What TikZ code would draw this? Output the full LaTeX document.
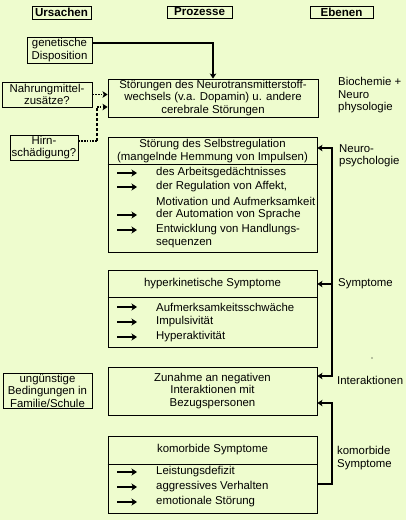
\documentclass[tikz,border=0pt]{standalone}
\usepackage{fontspec}
\setmainfont{Liberation Sans}
\usetikzlibrary{arrows.meta,calc}
\definecolor{bg}{RGB}{238,252,206}
\begin{document}
\begin{tikzpicture}[x=1pt,y=-1pt,
  every node/.style={font=\fontsize{11.4}{12.5}\selectfont, inner sep=0pt},
  head/.style={font=\fontsize{11.6}{12.5}\selectfont\bfseries},
  box/.style={draw, line width=0.9pt, inner sep=0pt},
  lbl/.style={anchor=west, align=left},
  row/.style={anchor=west},
  conn/.style={line width=1.8pt},
  tip/.style={-{Stealth[length=5pt,width=6.5pt,inset=1.2pt]}},
  dotline/.style={line width=1.6pt, dash pattern=on 1.6pt off 1.2pt},
  dashline/.style={line width=1.4pt, dash pattern=on 3pt off 2pt},
  larrow/.style={line width=1.8pt, -{Stealth[length=5.5pt,width=7pt,inset=1.5pt]}}
]
\fill[bg] (0,0) rectangle (406,520);
\useasboundingbox (0,0) rectangle (406,520);

% headers
\node[box, head, minimum width=59pt, minimum height=13pt] (urs) at (61.5,12.5) {Ursachen};
\node[box, head, minimum width=65pt, minimum height=12pt] (proz) at (199.5,12) {Prozesse};
\node[box, head, minimum width=63pt, minimum height=12pt] (eben) at (341.5,12) {Ebenen};

% causes
\node[box, minimum width=65pt, minimum height=26pt, align=center] (gen) at (59.5,50) {genetische\\Disposition};
\node[box, minimum width=90pt, minimum height=25pt, align=center] (nahr) at (47,94.5) {Nahrungmittel-\\zusätze?};
\node[box, minimum width=68pt, minimum height=25pt, align=center] (hirn) at (44,147.5) {Hirn-\\schädigung?};
\node[box, minimum width=89pt, minimum height=35pt, align=center] (ung) at (47.5,390.5) {ungünstige\\Bedingungen in\\Familie/Schule};

% processes
\node[box, minimum width=210pt, minimum height=38pt, align=center] (stoer) at (213,98) {Störungen des Neurotransmitterstoff-\\wechsels (v.a. Dopamin) u. andere\\cerebrale Störungen};

\node[box, minimum width=209pt, minimum height=115pt] (selbst) at (212.5,194.5) {};
\node[align=center] (seltitle) at (212.5,151) {Störung des Selbstregulation\\(mangelnde Hemmung von Impulsen)};
\draw[line width=0.9pt] ([yshift=-28pt]selbst.north west) -- ([yshift=-28pt]selbst.north east);
\node[row] (s1) at (156,173) {des Arbeitsgedächtnisses};
\node[row] (s2) at (156,187) {der Regulation von Affekt,};
\node[row] (s3) at (156,201) {Motivation und Aufmerksamkeit};
\node[row] (s4) at (156,215) {der Automation von Sprache};
\node[row] (s5) at (156,230) {Entwicklung von Handlungs-};
\node[row] (s6) at (156,244) {sequenzen};
\foreach \yy in {173,187,215,230} \draw[larrow] (117,\yy) -- (137,\yy);

\node[box, minimum width=209pt, minimum height=77pt] (hyper) at (212.5,308.5) {};
\node (hyptitle) at (212.5,284) {hyperkinetische Symptome};
\draw[line width=0.9pt] ([yshift=-28pt]hyper.north west) -- ([yshift=-28pt]hyper.north east);
\node[row] (h1) at (156,307) {Aufmerksamkeitsschwäche};
\node[row] (h2) at (156,322) {Impulsivität};
\node[row] (h3) at (156,337) {Hyperaktivität};
\foreach \yy in {307,322,337} \draw[larrow] (117,\yy) -- (137,\yy);

\node[box, minimum width=209pt, minimum height=48pt, align=center] (zun) at (212.5,391) {Zunahme an negativen\\Interaktionen mit\\Bezugspersonen};

\node[box, minimum width=209pt, minimum height=77pt] (komo) at (212.5,474.5) {};
\node (komtitle) at (212.5,450) {komorbide Symptome};
\draw[line width=0.9pt] ([yshift=-29pt]komo.north west) -- ([yshift=-29pt]komo.north east);
\node[row] (k1) at (156,472) {Leistungsdefizit};
\node[row] (k2) at (156,487) {aggressives Verhalten};
\node[row] (k3) at (156,502) {emotionale Störung};
\foreach \yy in {472,487,502} \draw[larrow] (117,\yy) -- (137,\yy);

% levels
\node[lbl] (bio) at (338,95.5) {Biochemie +\\Neuro\\physologie};
\node[lbl] (neuro) at (339,156) {Neuro-\\psychologie};
\node[lbl] (sym) at (338,284) {Symptome};
\node[lbl] (inter) at (337,380) {Interaktionen};
\node[lbl] (kom) at (337,458) {komorbide\\Symptome};

% connectors
\draw[conn, tip] ([yshift=7pt]gen.east) -| (stoer.north);
\draw[dotline, tip] (nahr.east) -- (nahr.east -| stoer.west);
\coordinate (hk1) at (97,141);
\coordinate (hk2) at (97,107);
\draw[dotline] (hk1 -| hirn.east) -- (hk1);
\draw[dashline] (hk1) -- (hk2);
\draw[dotline, tip] (hk2) -- (hk2 -| stoer.west);

\coordinate (vt) at (332,148);
\coordinate (vb) at (332,376);
\draw[conn, line cap=rect] (vt) -- (vb);
\draw[conn, tip] (vt) -- (vt -| selbst.east);
\draw[conn, tip] (vt |- hyptitle) -- (hyptitle -| hyper.east);
\draw[conn, tip] (vb) -- (vb -| zun.east);
\coordinate (kc) at (332,403);
\draw[conn, tip] ([yshift=-9.5pt]komo.east) -| (kc) -- (kc -| zun.east);

\fill (372,358) circle (0.7);
\end{tikzpicture}
\end{document}
